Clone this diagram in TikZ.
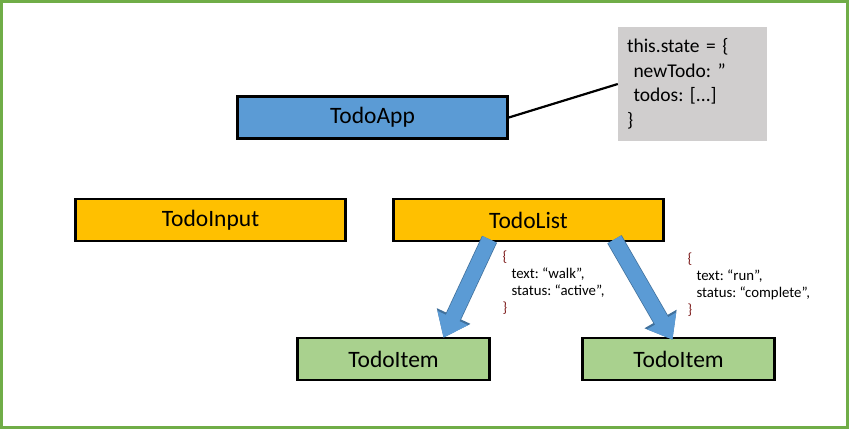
\documentclass[tikz,border=0pt]{standalone}
\usepackage{fontspec}
\setmainfont{Carlito}
\usepackage{xcolor}
\usetikzlibrary{arrows.meta,positioning,calc}
\definecolor{appblue}{HTML}{5B9BD5}
\definecolor{edgeblue}{HTML}{41719C}
\definecolor{listgold}{HTML}{FFC000}
\definecolor{itemgreen}{HTML}{A9D18E}
\definecolor{framegreen}{HTML}{70AD47}
\definecolor{stategray}{HTML}{D0CECE}
\definecolor{bracered}{HTML}{7F1F1F}
\frenchspacing

\begin{document}
\begin{tikzpicture}[x=1pt,y=-1pt,
    comp/.style={shape=rectangle,draw=black,line width=2.6pt,minimum width=270pt,minimum height=42pt,font=\fontsize{23.5}{28}\selectfont},
    itembox/.style={comp,minimum width=192pt},
    flow/.style={color=appblue,line width=15pt,-{Triangle[width=0pt 2.15,length=0pt 1.45]},
      preaction={draw=edgeblue,line width=16.5pt,-{Triangle[width=0pt 2.15,length=0pt 1.45,color=edgeblue]}}},
    props/.style={anchor=west,align=left,font=\fontsize{14.8}{17}\selectfont}]
    \useasboundingbox (0,0) rectangle (849,429);
    \draw[framegreen,line width=3pt] (1.5,1.5) rectangle (847.5,427.5);
    \node[comp,fill=appblue] (App) at (372.5,117.5) {TodoApp};
    \node[shape=rectangle,fill=stategray,minimum width=149pt,minimum height=114pt,text width=131pt,align=left,
      font=\fontsize{19.5}{24.5}\selectfont] (State) at (692.5,84) {this.state = \{\\ \ newTodo: ”\\ \ todos: [...]\\ \}};
    \node[comp,fill=listgold] (Input) at (210.5,220) {TodoInput};
    \node[comp,fill=listgold] (List) at (528.5,220) {TodoList};
    \node[itembox,fill=itemgreen] (ItemA) at (393.5,359) {TodoItem};
    \node[itembox,fill=itemgreen] (ItemB) at (678.5,359) {TodoItem};
    \node[props] (WalkTodo) at (499,283) {\textcolor{bracered}{\{}\\ \hspace{9pt}text: “walk”,\\ \hspace{9pt}status: “active”,\\ \textcolor{bracered}{\}}};
    \node[props] (RunTodo) at (684,285) {\textcolor{bracered}{\{}\\ \hspace{9pt}text: “run”,\\ \hspace{9pt}status: “complete”,\\ \textcolor{bracered}{\}}};
    \path [-,line width=2.2pt](App.east) edge node {} (State.west);
    \draw [flow]([xshift=-39pt,yshift=3pt]List.south) -- ([xshift=50pt,yshift=-1pt]ItemA.north);
    \draw [flow]([xshift=86pt,yshift=3pt]List.south) -- ([xshift=-6pt,yshift=-3pt]ItemB.north);
\end{tikzpicture}
\end{document}
